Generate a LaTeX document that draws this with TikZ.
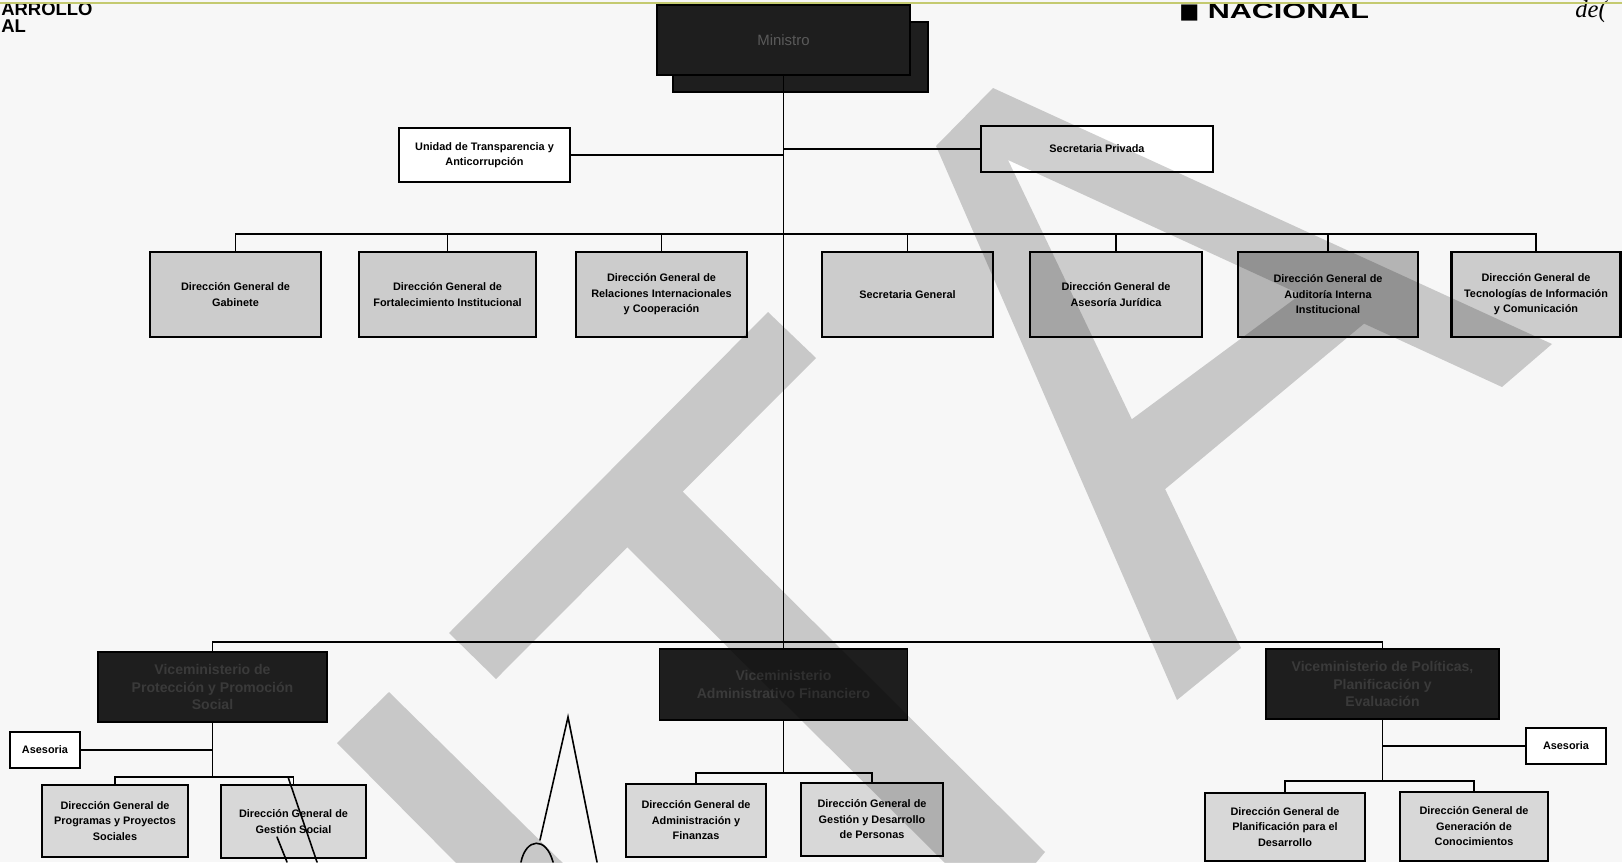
\documentclass[tikz,border=0pt]{standalone}
\usepackage{fontspec}
\setmainfont{Liberation Sans}
\newfontfamily\symfont{DejaVu Sans}
\newfontfamily\handfont{Liberation Serif}
\definecolor{pagebg}{RGB}{247,247,247}
\definecolor{boxgray}{RGB}{204,204,204}
\definecolor{boxdark}{RGB}{180,180,180}
\definecolor{boxlight}{RGB}{216,216,216}
\definecolor{vmfill}{RGB}{30,30,30}
\definecolor{vmtext}{RGB}{58,58,58}
\definecolor{mintext}{RGB}{90,90,90}
\definecolor{topline}{RGB}{196,202,112}
\newcommand{\orgfont}{\fontsize{6.2}{8.8}\selectfont\bfseries}
\newcommand{\vmfont}{\fontsize{8}{10}\selectfont\bfseries}

\begin{document}
\begin{tikzpicture}[x=0.02cm, y=-0.02cm,
  unitbox/.style={draw=black, line width=1.5pt, fill=boxgray, inner sep=0pt, align=center, font=\orgfont},
  lowbox/.style={unitbox, fill=boxlight},
  plainbox/.style={draw=black, line width=1pt, fill=white, inner sep=0pt, align=center, font=\orgfont},
  vmbox/.style={draw=black, line width=0.8pt, fill=vmfill, text=vmtext, inner sep=0pt, align=center, font=\vmfont},
  link/.style={draw=black, line width=0.6pt},
  headtext/.style={anchor=base west, inner sep=0pt, font=\fontsize{10.5}{12}\selectfont\bfseries},
  scrawl/.style={draw=black, line width=0.9pt, line cap=round}]

\useasboundingbox (0,0) rectangle (1622,862);
\fill[pagebg] (0,0) rectangle (1622,862);

% header of the scanned page
\node[headtext] (hdrA) at (1,15) {ARROLLO};
\node[headtext] (hdrB) at (1,32) {AL};
\node[headtext, font=\fontsize{12}{12}\selectfont\bfseries\addfontfeatures{FakeStretch=1.45}] (hdrC) at (1179,18) {{\symfont ■}\ NACIONAL};
\node[headtext, font=\fontsize{14}{14}\selectfont\handfont\itshape] (hdrD) at (1575,17) {de(};
\draw[topline, line width=1.6pt] (0,3) -- (1622,3);

% top level
\node[vmbox, minimum width=5.10cm, minimum height=1.40cm] (minshadow) at (800.5,57) {};
\node[vmbox, minimum width=5.06cm, minimum height=1.40cm, text=mintext, font=\fontsize{8.5}{10}\selectfont] (min) at (783.5,40) {Ministro};

\node[plainbox, minimum width=3.42cm, minimum height=1.08cm] (uta) at (484.5,155) {Unidad de Transparencia y\\Anticorrupción};
\node[plainbox, minimum width=4.64cm, minimum height=0.92cm] (spriv) at (1097,149) {Secretaria Privada};

% direcciones del despacho
\node[unitbox, minimum width=3.42cm, minimum height=1.70cm] (gab) at (235.5,294.5) {Dirección General de\\Gabinete};
\node[unitbox, minimum width=3.54cm, minimum height=1.70cm] (fort) at (447.5,294.5) {Dirección General de\\Fortalecimiento Institucional};
\node[unitbox, minimum width=3.42cm, minimum height=1.70cm] (rel) at (661.5,294.5) {Dirección General de\\Relaciones Internacionales\\y Cooperación};
\node[unitbox, minimum width=3.42cm, minimum height=1.70cm] (sg) at (907.5,294.5) {Secretaria General};
\node[unitbox, minimum width=3.44cm, minimum height=1.70cm] (asj) at (1116,294.5) {Dirección General de\\Asesoría Jurídica};
\node[unitbox, fill=boxdark, minimum width=3.60cm, minimum height=1.70cm] (aud) at (1328,294.5) {Dirección General de\\Auditoría Interna\\Institucional};
\node[unitbox, minimum width=3.38cm, minimum height=1.70cm] (tic) at (1536,294.5) {Dirección General de\\Tecnologías de Información\\y Comunicación};

% viceministerios
\node[vmbox, minimum width=4.58cm, minimum height=1.40cm] (vm1) at (212.5,687) {Viceministerio de\\Protección y Promoción\\Social};
\node[vmbox, minimum width=4.96cm, minimum height=1.42cm] (vm2) at (783.5,684.5) {Viceministerio\\Administrativo Financiero};
\node[vmbox, minimum width=4.66cm, minimum height=1.40cm] (vm3) at (1382.5,684) {Viceministerio de Políticas,\\Planificación y\\Evaluación};

% direcciones de los viceministerios
\node[plainbox, minimum width=1.40cm, minimum height=0.72cm] (ases1) at (45,750) {Asesoria};
\node[lowbox, minimum width=2.92cm, minimum height=1.44cm] (prog) at (115,821) {Dirección General de\\Programas y Proyectos\\Sociales};
\node[lowbox, minimum width=2.90cm, minimum height=1.46cm] (gsoc) at (293.5,821.5) {Dirección General de\\Gestión Social};
\node[lowbox, minimum width=2.80cm, minimum height=1.46cm] (adm) at (696,820.5) {Dirección General de\\Administración y\\Finanzas};
\node[lowbox, minimum width=2.84cm, minimum height=1.46cm] (gdp) at (872,819.5) {Dirección General de\\Gestión y Desarrollo\\de Personas};
\node[plainbox, minimum width=1.60cm, minimum height=0.72cm] (ases2) at (1566,746) {Asesoria};
\node[lowbox, minimum width=3.20cm, minimum height=1.36cm] (plan) at (1285,827) {Dirección General de\\Planificación para el\\Desarrollo};
\node[lowbox, minimum width=2.96cm, minimum height=1.38cm] (gen) at (1474,826.5) {Dirección General de\\Generación de\\Conocimientos};

% connectors
\coordinate (busA) at (783.5,234);
\coordinate (busB) at (783.5,642);
\coordinate (busC) at (212.5,777);
\coordinate (busD) at (783.5,773);
\coordinate (busE) at (1382.5,781);

\path[link] (min.south) -- (vm2.north);
\path[link] (uta.east) -- (uta.east -| min.south);
\path[link] (spriv.west) -- (spriv.west -| min.south);
\path[link] (gab.north) |- (busA) -| (tic.north);
\foreach \n in {fort,rel,sg,asj,aud}
  \path[link] (\n.north) -- (\n.north |- busA);
\path[link] (vm1.north) |- (busB) -| (vm3.north);

\path[link] (vm1.south) -- (busC);
\path[link] (ases1.east) -- (ases1.east -| vm1.south);
\path[link] (prog.north) |- (busC) -| (gsoc.north);
\path[link] (vm2.south) -- (busD);
\path[link] (adm.north) |- (busD) -| (gdp.north);
\path[link] (vm3.south) -- (busE);
\path[link] (ases2.west) -- (ases2.west -| vm3.south);
\path[link] (plan.north) |- (busE) -| (gen.north);

% watermark
\fill[black, fill opacity=0.19]
  (449,633) -- (768,312) -- (816,358) -- (496,679) -- cycle
  (675,484) -- (1045,852) -- (1030,870) -- (952,870) -- (620,540) -- cycle
  (337,743) -- (389,692) -- (575,875) -- (468,875) -- cycle
  (936,146) -- (993,88) -- (1552,344) -- (1502,387) -- (1008,160) -- (1241,648) -- (1177,700) -- cycle
  (1120,428) -- (1308,289) -- (1372,317) -- (1158,495) -- cycle;

% pen strokes on the scan
\draw[scrawl] (540,840) -- (568,717) -- (597,862);
\draw[scrawl] (521,862) .. controls (526,838) and (546,836) .. (553,862);
\draw[scrawl] (288,777) -- (317,862);
\draw[scrawl] (277,837) -- (287,862);

\end{tikzpicture}
\end{document}
